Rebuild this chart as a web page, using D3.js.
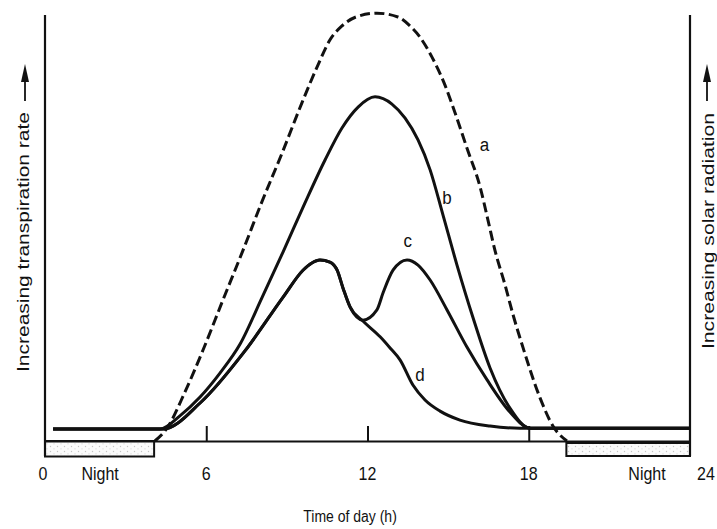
<!DOCTYPE html>
<html>
<head>
<meta charset="utf-8">
<script src="https://cdn.jsdelivr.net/npm/d3@7"></script>
<style>
  body { margin: 0; background: #fff; }
  svg { display: block; }
  text { font-family: "Liberation Sans", Arial, Helvetica, sans-serif; fill: #111; }
</style>
</head>
<body>
<svg id="chart" width="717" height="529"></svg>
<script>
// Time axis (hours of the day)
const hourTicks = [6, 12, 18];
const endLabels = ["0", "24"];
const nightSpans = [[0, 4.06], [19.4, 24]];
const nightText = "Night";
const xTitle = "Time of day (h)";
const leftTitle = "Increasing transpiration rate";
const rightTitle = "Increasing solar radiation";

// a: solar radiation (dashed), [hour, relative level]
const curveA = [
  [4.09, 0], [4.54, 3.0], [5.21, 11.5], [5.88, 21.3], [6.62, 33.0], [7.37, 44.7],
  [8.07, 56.0], [8.82, 67.4], [9.56, 79.2], [10.16, 88.1], [10.60, 93.9],
  [11.05, 97.2], [11.57, 99.3], [12.35, 100.2], [13.13, 99.3], [13.58, 97.2],
  [13.95, 94.6], [14.40, 89.9], [14.88, 83.4], [15.26, 76.8], [15.70, 68.6],
  [16.19, 59.5], [16.48, 51.8], [16.74, 44.7], [17.12, 36.5], [17.41, 29.7],
  [17.79, 21.8], [18.42, 10.1], [18.90, 3.5], [19.42, 0]
];
// b: transpiration with ample water
const curveB = [
  [0.3, 2.8], [4.28, 2.8], [5.02, 5.9], [5.77, 10.3], [6.51, 15.9], [7.26, 22.7],
  [8.07, 33.5], [8.86, 44.3], [9.67, 55.7], [10.42, 65.8], [11.05, 73.3],
  [11.65, 78.2], [12.28, 80.6], [12.91, 78.9], [13.40, 75.6], [13.88, 70.5],
  [14.33, 63.5], [14.81, 52.9], [15.33, 41.2], [15.93, 28.8], [16.56, 17.1],
  [17.30, 7.7], [18.05, 3.0], [24, 3.0]
];
// c: midday stomatal closure followed by afternoon recovery
const curveC = [
  [0.3, 2.8], [4.39, 2.8], [5.77, 8.9], [7.44, 21.1], [8.86, 33.7], [9.60, 40.0],
  [9.93, 41.7], [10.23, 42.4], [10.60, 41.9], [10.87, 40.0], [11.09, 35.8],
  [11.35, 31.4], [11.83, 28.3], [12.35, 30.7], [12.58, 34.7], [12.95, 40.0],
  [13.47, 42.4], [13.88, 41.2], [14.33, 37.7], [14.96, 30.7], [15.70, 22.0],
  [16.45, 14.3], [17.30, 6.8], [18.05, 3.0], [24, 3.0]
];
// d: closure without recovery
const curveD = [
  [0.3, 2.8], [4.39, 2.8], [5.77, 8.9], [7.44, 21.1], [8.86, 33.7], [9.60, 40.0],
  [9.93, 41.7], [10.23, 42.4], [10.60, 41.9], [10.87, 40.0], [11.09, 35.8],
  [11.35, 31.4], [11.83, 28.1], [12.47, 24.4], [12.84, 21.8], [13.21, 19.0],
  [13.69, 13.1], [14.14, 9.6], [14.70, 7.0], [15.44, 4.9], [16.56, 3.5],
  [17.67, 3.0], [24, 3.0]
];
const curveLabels = [
  { name: "a", at: [16.35, 68.0] },
  { name: "b", at: [14.96, 55.6] },
  { name: "c", at: [13.50, 45.5] },
  { name: "d", at: [13.95, 14.0] }
];

const svg = d3.select("#chart");
const x = d3.scaleLinear().domain([0, 24]).range([45, 690]);
const y = d3.scaleLinear().domain([0, 100]).range([441, 14]);
const ink = "#111";
const stretch = "scale(1,1.13)";

// stipple fill for the night bars
const defs = svg.append("defs");
const pat = defs.append("pattern").attr("id", "stipple")
  .attr("width", 7).attr("height", 5).attr("patternUnits", "userSpaceOnUse");
pat.append("rect").attr("width", 7).attr("height", 5).attr("fill", "#fbfbfb");
pat.append("circle").attr("cx", 1.5).attr("cy", 1.5).attr("r", 0.7).attr("fill", "#c4c4c4");
pat.append("circle").attr("cx", 5).attr("cy", 3.8).attr("r", 0.6).attr("fill", "#d2d2d2");

// night bars beneath the time axis
svg.selectAll("rect.night").data(nightSpans).join("rect")
  .attr("class", "night")
  .attr("x", d => x(d[0]))
  .attr("width", d => x(d[1]) - x(d[0]))
  .attr("y", (d, i) => i === 0 ? 441 : 443)
  .attr("height", (d, i) => i === 0 ? 15.5 : 13)
  .attr("fill", "url(#stipple)")
  .attr("stroke", ink).attr("stroke-width", 2);

// vertical axes
[0, 24].forEach(h => {
  svg.append("line")
    .attr("x1", x(h)).attr("x2", x(h))
    .attr("y1", 15).attr("y2", 456)
    .attr("stroke", ink).attr("stroke-width", 2.2);
});

// time axis with upward ticks
const axis = d3.axisBottom(x).tickValues(hourTicks).tickSizeInner(-15).tickSizeOuter(0).tickFormat("");
const gAxis = svg.append("g").attr("transform", "translate(0,441)").call(axis);
gAxis.select(".domain").attr("stroke", ink).attr("stroke-width", 1.8);
gAxis.selectAll(".tick line").attr("stroke", ink).attr("stroke-width", 2);

// tick labels
const labelY = 480;
function bottomText(px, str, size) {
  svg.append("text")
    .attr("transform", `translate(${px},${labelY}) ${stretch}`)
    .attr("text-anchor", "middle").attr("font-size", size).text(str);
}
hourTicks.forEach(h => bottomText(x(h), String(h), 16));
bottomText(x(0) - 2, endLabels[0], 16);
bottomText(x(24) + 16, endLabels[1], 16);
bottomText(x(2.05), nightText, 16);
bottomText(x(22.4), nightText, 16);

// axis title
svg.append("text")
  .attr("transform", `translate(${x(11.35)},522) ${stretch}`)
  .attr("text-anchor", "middle").attr("font-size", 14).text(xTitle);

// rotated side titles with upward arrows
function sideTitle(label, baseX, bottomY, arrowX, len) {
  svg.append("text")
    .attr("transform", `translate(${baseX},${bottomY}) rotate(-90)`)
    .attr("font-size", 16)
    .attr("textLength", len).attr("lengthAdjust", "spacingAndGlyphs")
    .text(label);
  svg.append("line")
    .attr("x1", arrowX).attr("x2", arrowX).attr("y1", 101).attr("y2", 76)
    .attr("stroke", ink).attr("stroke-width", 1.8);
  svg.append("path")
    .attr("d", `M${arrowX},64 L${arrowX - 4},82 L${arrowX + 4},82 Z`)
    .attr("fill", ink);
}
sideTitle(leftTitle, 29, 372, 25, 260);
sideTitle(rightTitle, 714, 349, 707, 236);

// curves
const line = d3.line().x(d => x(d[0])).y(d => y(d[1])).curve(d3.curveMonotoneX);
const series = [
  { data: curveD, dash: null },
  { data: curveC, dash: null },
  { data: curveB, dash: null },
  { data: curveA, dash: "10,4.5" }
];
svg.selectAll("path.curve").data(series).join("path")
  .attr("class", "curve")
  .attr("d", d => line(d.data))
  .attr("fill", "none")
  .attr("stroke", ink)
  .attr("stroke-width", 3)
  .attr("stroke-linecap", "butt")
  .attr("stroke-linejoin", "round")
  .attr("stroke-dasharray", d => d.dash);

// curve letters
svg.selectAll("text.curve-label").data(curveLabels).join("text")
  .attr("class", "curve-label")
  .attr("transform", d => `translate(${x(d.at[0])},${y(d.at[1])}) ${stretch}`)
  .attr("text-anchor", "middle")
  .attr("font-size", 17)
  .text(d => d.name);
</script>
</body>
</html>
